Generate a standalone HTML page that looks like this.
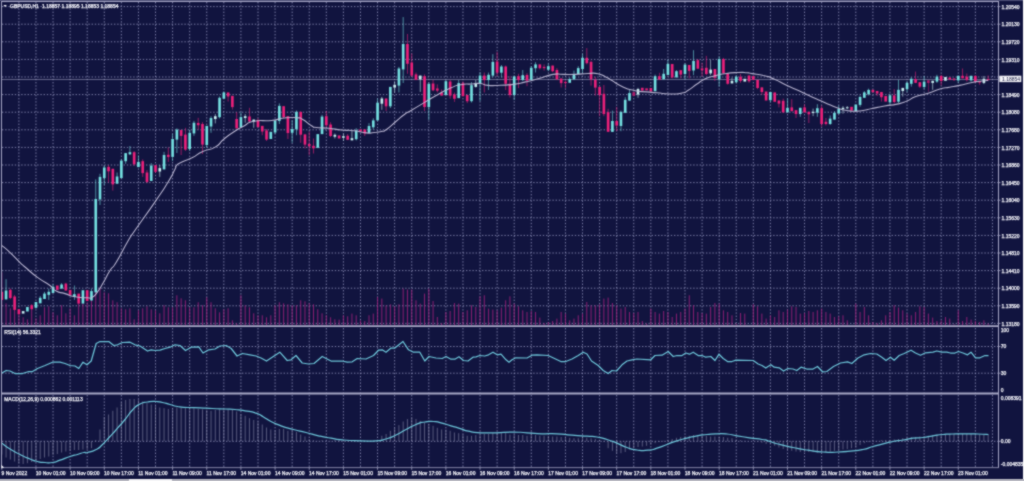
<!DOCTYPE html>
<html><head><meta charset="utf-8"><title>GBPUSD H1</title>
<style>html,body{margin:0;padding:0;background:#11143f;overflow:hidden}body{width:1024px;height:481px;font-family:"Liberation Sans",sans-serif}</style>
</head><body>
<svg width="1024" height="481" viewBox="0 0 1024 481" style="display:block">
<defs><filter id="soft" x="0" y="0" width="1024" height="481" filterUnits="userSpaceOnUse" color-interpolation-filters="sRGB"><feConvolveMatrix order="3" kernelMatrix="1 2 1 2 10 2 1 2 1" divisor="22" edgeMode="duplicate" preserveAlpha="true"/></filter></defs>
<g filter="url(#soft)">
<rect x="0" y="0" width="1024" height="481" fill="#11143f"/>
<rect x="0" y="0" width="1024" height="1" fill="#4a4c74"/>
<g stroke="#a0a1ca" stroke-width="0.8" stroke-dasharray="1.4 1.8" opacity="0.95" fill="none">
<path d="M18.88 2V325.5M18.88 328V392.5M18.88 395V467"/>
<path d="M35.96 2V325.5M35.96 328V392.5M35.96 395V467"/>
<path d="M53.04 2V325.5M53.04 328V392.5M53.04 395V467"/>
<path d="M70.12 2V325.5M70.12 328V392.5M70.12 395V467"/>
<path d="M87.20 2V325.5M87.20 328V392.5M87.20 395V467"/>
<path d="M104.28 2V325.5M104.28 328V392.5M104.28 395V467"/>
<path d="M121.36 2V325.5M121.36 328V392.5M121.36 395V467"/>
<path d="M138.44 2V325.5M138.44 328V392.5M138.44 395V467"/>
<path d="M155.52 2V325.5M155.52 328V392.5M155.52 395V467"/>
<path d="M172.60 2V325.5M172.60 328V392.5M172.60 395V467"/>
<path d="M189.68 2V325.5M189.68 328V392.5M189.68 395V467"/>
<path d="M206.76 2V325.5M206.76 328V392.5M206.76 395V467"/>
<path d="M223.84 2V325.5M223.84 328V392.5M223.84 395V467"/>
<path d="M240.92 2V325.5M240.92 328V392.5M240.92 395V467"/>
<path d="M258.00 2V325.5M258.00 328V392.5M258.00 395V467"/>
<path d="M275.08 2V325.5M275.08 328V392.5M275.08 395V467"/>
<path d="M292.16 2V325.5M292.16 328V392.5M292.16 395V467"/>
<path d="M309.24 2V325.5M309.24 328V392.5M309.24 395V467"/>
<path d="M326.32 2V325.5M326.32 328V392.5M326.32 395V467"/>
<path d="M343.40 2V325.5M343.40 328V392.5M343.40 395V467"/>
<path d="M360.48 2V325.5M360.48 328V392.5M360.48 395V467"/>
<path d="M377.56 2V325.5M377.56 328V392.5M377.56 395V467"/>
<path d="M394.64 2V325.5M394.64 328V392.5M394.64 395V467"/>
<path d="M411.72 2V325.5M411.72 328V392.5M411.72 395V467"/>
<path d="M428.80 2V325.5M428.80 328V392.5M428.80 395V467"/>
<path d="M445.88 2V325.5M445.88 328V392.5M445.88 395V467"/>
<path d="M462.96 2V325.5M462.96 328V392.5M462.96 395V467"/>
<path d="M480.04 2V325.5M480.04 328V392.5M480.04 395V467"/>
<path d="M497.12 2V325.5M497.12 328V392.5M497.12 395V467"/>
<path d="M514.20 2V325.5M514.20 328V392.5M514.20 395V467"/>
<path d="M531.28 2V325.5M531.28 328V392.5M531.28 395V467"/>
<path d="M548.36 2V325.5M548.36 328V392.5M548.36 395V467"/>
<path d="M565.44 2V325.5M565.44 328V392.5M565.44 395V467"/>
<path d="M582.52 2V325.5M582.52 328V392.5M582.52 395V467"/>
<path d="M599.60 2V325.5M599.60 328V392.5M599.60 395V467"/>
<path d="M616.68 2V325.5M616.68 328V392.5M616.68 395V467"/>
<path d="M633.76 2V325.5M633.76 328V392.5M633.76 395V467"/>
<path d="M650.84 2V325.5M650.84 328V392.5M650.84 395V467"/>
<path d="M667.92 2V325.5M667.92 328V392.5M667.92 395V467"/>
<path d="M685.00 2V325.5M685.00 328V392.5M685.00 395V467"/>
<path d="M702.08 2V325.5M702.08 328V392.5M702.08 395V467"/>
<path d="M719.16 2V325.5M719.16 328V392.5M719.16 395V467"/>
<path d="M736.24 2V325.5M736.24 328V392.5M736.24 395V467"/>
<path d="M753.32 2V325.5M753.32 328V392.5M753.32 395V467"/>
<path d="M770.40 2V325.5M770.40 328V392.5M770.40 395V467"/>
<path d="M787.48 2V325.5M787.48 328V392.5M787.48 395V467"/>
<path d="M804.56 2V325.5M804.56 328V392.5M804.56 395V467"/>
<path d="M821.64 2V325.5M821.64 328V392.5M821.64 395V467"/>
<path d="M838.72 2V325.5M838.72 328V392.5M838.72 395V467"/>
<path d="M855.80 2V325.5M855.80 328V392.5M855.80 395V467"/>
<path d="M872.88 2V325.5M872.88 328V392.5M872.88 395V467"/>
<path d="M889.96 2V325.5M889.96 328V392.5M889.96 395V467"/>
<path d="M907.04 2V325.5M907.04 328V392.5M907.04 395V467"/>
<path d="M924.12 2V325.5M924.12 328V392.5M924.12 395V467"/>
<path d="M941.20 2V325.5M941.20 328V392.5M941.20 395V467"/>
<path d="M958.28 2V325.5M958.28 328V392.5M958.28 395V467"/>
<path d="M975.36 2V325.5M975.36 328V392.5M975.36 395V467"/>
<path d="M992.44 2V325.5M992.44 328V392.5M992.44 395V467"/>
<path d="M2 6.60H998"/>
<path d="M2 24.20H998"/>
<path d="M2 41.80H998"/>
<path d="M2 59.40H998"/>
<path d="M2 77.00H998"/>
<path d="M2 94.60H998"/>
<path d="M2 112.20H998"/>
<path d="M2 129.80H998"/>
<path d="M2 147.40H998"/>
<path d="M2 165.00H998"/>
<path d="M2 182.60H998"/>
<path d="M2 200.20H998"/>
<path d="M2 217.80H998"/>
<path d="M2 235.40H998"/>
<path d="M2 253.00H998"/>
<path d="M2 270.60H998"/>
<path d="M2 288.20H998"/>
<path d="M2 305.80H998"/>
<path d="M2 323.40H998"/>
<path d="M2 346.50H998"/>
<path d="M2 373.20H998"/>
<path d="M2 441.30H998"/>
</g>
<defs><clipPath id="cp"><rect x="2" y="2" width="996" height="465"/></clipPath></defs><g clip-path="url(#cp)">
<g stroke="#a0207c" stroke-width="0.85">
<path d="M1.80 325.3V272.3"/>
<path d="M6.07 325.3V303.3"/>
<path d="M10.34 325.3V308.3"/>
<path d="M14.61 325.3V310.3"/>
<path d="M18.88 325.3V315.3"/>
<path d="M23.15 325.3V317.3"/>
<path d="M27.42 325.3V319.3"/>
<path d="M31.69 325.3V307.3"/>
<path d="M35.96 325.3V318.3"/>
<path d="M40.23 325.3V315.3"/>
<path d="M44.50 325.3V307.3"/>
<path d="M48.77 325.3V306.3"/>
<path d="M53.04 325.3V312.3"/>
<path d="M57.31 325.3V315.3"/>
<path d="M61.58 325.3V305.3"/>
<path d="M65.85 325.3V313.3"/>
<path d="M70.12 325.3V308.3"/>
<path d="M74.39 325.3V315.3"/>
<path d="M78.66 325.3V303.3"/>
<path d="M82.93 325.3V303.3"/>
<path d="M87.20 325.3V302.3"/>
<path d="M91.47 325.3V298.3"/>
<path d="M95.74 325.3V288.3"/>
<path d="M100.01 325.3V287.3"/>
<path d="M104.28 325.3V292.3"/>
<path d="M108.55 325.3V293.3"/>
<path d="M112.82 325.3V300.3"/>
<path d="M117.09 325.3V302.3"/>
<path d="M121.36 325.3V308.3"/>
<path d="M125.63 325.3V309.3"/>
<path d="M129.90 325.3V308.3"/>
<path d="M134.17 325.3V319.3"/>
<path d="M138.44 325.3V310.3"/>
<path d="M142.71 325.3V308.3"/>
<path d="M146.98 325.3V306.3"/>
<path d="M151.25 325.3V309.3"/>
<path d="M155.52 325.3V310.3"/>
<path d="M159.79 325.3V313.3"/>
<path d="M164.06 325.3V305.3"/>
<path d="M168.33 325.3V307.3"/>
<path d="M172.60 325.3V307.3"/>
<path d="M176.87 325.3V295.3"/>
<path d="M181.14 325.3V298.3"/>
<path d="M185.41 325.3V300.3"/>
<path d="M189.68 325.3V307.3"/>
<path d="M193.95 325.3V307.3"/>
<path d="M198.22 325.3V302.3"/>
<path d="M202.49 325.3V305.3"/>
<path d="M206.76 325.3V297.3"/>
<path d="M211.03 325.3V302.3"/>
<path d="M215.30 325.3V308.3"/>
<path d="M219.57 325.3V312.3"/>
<path d="M223.84 325.3V309.3"/>
<path d="M228.11 325.3V308.3"/>
<path d="M232.38 325.3V320.3"/>
<path d="M236.65 325.3V323.3"/>
<path d="M240.92 325.3V295.3"/>
<path d="M245.19 325.3V305.3"/>
<path d="M249.46 325.3V307.3"/>
<path d="M253.73 325.3V313.3"/>
<path d="M258.00 325.3V315.3"/>
<path d="M262.27 325.3V315.3"/>
<path d="M266.54 325.3V317.3"/>
<path d="M270.81 325.3V315.3"/>
<path d="M275.08 325.3V305.3"/>
<path d="M279.35 325.3V302.3"/>
<path d="M283.62 325.3V303.3"/>
<path d="M287.89 325.3V304.3"/>
<path d="M292.16 325.3V305.3"/>
<path d="M296.43 325.3V305.3"/>
<path d="M300.70 325.3V300.3"/>
<path d="M304.97 325.3V301.3"/>
<path d="M309.24 325.3V303.3"/>
<path d="M313.51 325.3V304.3"/>
<path d="M317.78 325.3V309.3"/>
<path d="M322.05 325.3V313.3"/>
<path d="M326.32 325.3V315.3"/>
<path d="M330.59 325.3V317.3"/>
<path d="M334.86 325.3V319.3"/>
<path d="M339.13 325.3V319.6"/>
<path d="M343.40 325.3V315.3"/>
<path d="M347.67 325.3V316.3"/>
<path d="M351.94 325.3V313.6"/>
<path d="M356.21 325.3V315.3"/>
<path d="M360.48 325.3V320.3"/>
<path d="M364.75 325.3V321.0"/>
<path d="M369.02 325.3V315.3"/>
<path d="M373.29 325.3V313.6"/>
<path d="M377.56 325.3V297.0"/>
<path d="M381.83 325.3V298.6"/>
<path d="M386.10 325.3V305.3"/>
<path d="M390.37 325.3V304.3"/>
<path d="M394.64 325.3V306.3"/>
<path d="M398.91 325.3V304.3"/>
<path d="M403.18 325.3V288.6"/>
<path d="M407.45 325.3V289.6"/>
<path d="M411.72 325.3V289.6"/>
<path d="M415.99 325.3V300.3"/>
<path d="M420.26 325.3V303.6"/>
<path d="M424.53 325.3V293.6"/>
<path d="M428.80 325.3V288.6"/>
<path d="M433.07 325.3V301.0"/>
<path d="M437.34 325.3V317.0"/>
<path d="M441.61 325.3V323.0"/>
<path d="M445.88 325.3V312.0"/>
<path d="M450.15 325.3V311.0"/>
<path d="M454.42 325.3V303.0"/>
<path d="M458.69 325.3V303.6"/>
<path d="M462.96 325.3V312.0"/>
<path d="M467.23 325.3V310.3"/>
<path d="M471.50 325.3V305.3"/>
<path d="M475.77 325.3V307.0"/>
<path d="M480.04 325.3V296.3"/>
<path d="M484.31 325.3V295.3"/>
<path d="M488.58 325.3V308.6"/>
<path d="M492.85 325.3V309.6"/>
<path d="M497.12 325.3V310.3"/>
<path d="M501.39 325.3V307.6"/>
<path d="M505.66 325.3V300.3"/>
<path d="M509.93 325.3V296.3"/>
<path d="M514.20 325.3V303.6"/>
<path d="M518.47 325.3V306.3"/>
<path d="M522.74 325.3V310.3"/>
<path d="M527.01 325.3V312.0"/>
<path d="M531.28 325.3V311.0"/>
<path d="M535.55 325.3V312.0"/>
<path d="M539.82 325.3V317.6"/>
<path d="M544.09 325.3V323.0"/>
<path d="M548.36 325.3V322.0"/>
<path d="M552.63 325.3V321.0"/>
<path d="M556.90 325.3V318.6"/>
<path d="M561.17 325.3V312.0"/>
<path d="M565.44 325.3V313.6"/>
<path d="M569.71 325.3V320.3"/>
<path d="M573.98 325.3V318.6"/>
<path d="M578.25 325.3V315.3"/>
<path d="M582.52 325.3V313.6"/>
<path d="M586.79 325.3V302.0"/>
<path d="M591.06 325.3V305.3"/>
<path d="M595.33 325.3V305.3"/>
<path d="M599.60 325.3V304.3"/>
<path d="M603.87 325.3V298.6"/>
<path d="M608.14 325.3V297.6"/>
<path d="M612.41 325.3V303.0"/>
<path d="M616.68 325.3V305.3"/>
<path d="M620.95 325.3V308.6"/>
<path d="M625.22 325.3V307.0"/>
<path d="M629.49 325.3V312.0"/>
<path d="M633.76 325.3V313.0"/>
<path d="M638.03 325.3V312.0"/>
<path d="M642.30 325.3V321.0"/>
<path d="M646.57 325.3V323.6"/>
<path d="M650.84 325.3V308.6"/>
<path d="M655.11 325.3V312.0"/>
<path d="M659.38 325.3V313.6"/>
<path d="M663.65 325.3V311.0"/>
<path d="M667.92 325.3V312.0"/>
<path d="M672.19 325.3V317.0"/>
<path d="M676.46 325.3V313.6"/>
<path d="M680.73 325.3V312.0"/>
<path d="M685.00 325.3V308.6"/>
<path d="M689.27 325.3V295.3"/>
<path d="M693.54 325.3V305.3"/>
<path d="M697.81 325.3V312.0"/>
<path d="M702.08 325.3V313.0"/>
<path d="M706.35 325.3V313.6"/>
<path d="M710.62 325.3V307.0"/>
<path d="M714.89 325.3V303.0"/>
<path d="M719.16 325.3V303.6"/>
<path d="M723.43 325.3V310.3"/>
<path d="M727.70 325.3V312.0"/>
<path d="M731.97 325.3V315.3"/>
<path d="M736.24 325.3V323.6"/>
<path d="M740.51 325.3V313.0"/>
<path d="M744.78 325.3V313.6"/>
<path d="M753.32 325.3V304.3"/>
<path d="M757.59 325.3V306.3"/>
<path d="M761.86 325.3V313.6"/>
<path d="M766.13 325.3V318.6"/>
<path d="M770.40 325.3V315.3"/>
<path d="M774.67 325.3V317.0"/>
<path d="M778.94 325.3V310.3"/>
<path d="M783.21 325.3V312.0"/>
<path d="M787.48 325.3V309.6"/>
<path d="M791.75 325.3V306.3"/>
<path d="M796.02 325.3V307.0"/>
<path d="M800.29 325.3V313.6"/>
<path d="M804.56 325.3V313.0"/>
<path d="M808.83 325.3V311.0"/>
<path d="M813.10 325.3V312.0"/>
<path d="M817.37 325.3V310.3"/>
<path d="M821.64 325.3V308.6"/>
<path d="M825.91 325.3V312.0"/>
<path d="M830.18 325.3V313.6"/>
<path d="M834.45 325.3V317.0"/>
<path d="M838.72 325.3V316.3"/>
<path d="M842.99 325.3V315.3"/>
<path d="M847.26 325.3V320.3"/>
<path d="M855.80 325.3V303.6"/>
<path d="M860.07 325.3V312.0"/>
<path d="M864.34 325.3V307.0"/>
<path d="M868.61 325.3V315.3"/>
<path d="M872.88 325.3V322.0"/>
<path d="M877.15 325.3V323.0"/>
<path d="M881.42 325.3V320.3"/>
<path d="M885.69 325.3V315.3"/>
<path d="M889.96 325.3V312.0"/>
<path d="M894.23 325.3V305.3"/>
<path d="M898.50 325.3V307.6"/>
<path d="M902.77 325.3V310.3"/>
<path d="M907.04 325.3V313.6"/>
<path d="M911.31 325.3V315.3"/>
<path d="M915.58 325.3V312.0"/>
<path d="M919.85 325.3V306.3"/>
<path d="M924.12 325.3V307.0"/>
<path d="M928.39 325.3V313.6"/>
<path d="M932.66 325.3V317.6"/>
<path d="M936.93 325.3V321.0"/>
<path d="M941.20 325.3V320.3"/>
<path d="M945.47 325.3V317.0"/>
<path d="M949.74 325.3V318.6"/>
<path d="M954.01 325.3V324.3"/>
<path d="M958.28 325.3V310.3"/>
<path d="M962.55 325.3V321.0"/>
<path d="M966.82 325.3V317.0"/>
<path d="M971.09 325.3V319.6"/>
<path d="M975.36 325.3V321.0"/>
<path d="M979.63 325.3V322.0"/>
<path d="M983.90 325.3V320.3"/>
<path d="M988.17 325.3V323.6"/>
</g>
<path d="M2 79.4H998" stroke="#b4b4d2" stroke-width="0.8" opacity="0.72"/>
<g>
<rect x="0.47" y="291.8" width="2.66" height="8.1" fill="#ea2079"/>
<path d="M6.07 279.2V299.9" stroke="#74dfe0" stroke-width="0.75" opacity="0.8"/>
<rect x="4.74" y="290.5" width="2.66" height="8.8" fill="#74dfe0"/>
<path d="M10.34 288.6V299.2" stroke="#ea2079" stroke-width="0.75" opacity="0.8"/>
<rect x="9.01" y="289.9" width="2.66" height="8.1" fill="#ea2079"/>
<path d="M14.61 294.9V310.5" stroke="#ea2079" stroke-width="0.75" opacity="0.8"/>
<rect x="13.28" y="296.5" width="2.66" height="13.4" fill="#ea2079"/>
<path d="M18.88 309.2V315.2" stroke="#ea2079" stroke-width="0.75" opacity="0.8"/>
<rect x="17.55" y="309.2" width="2.66" height="5.0" fill="#ea2079"/>
<rect x="21.82" y="311.1" width="2.66" height="2.5" fill="#c9eef0"/>
<rect x="26.09" y="307.0" width="2.66" height="4.5" fill="#74dfe0"/>
<path d="M31.69 304.2V309.2" stroke="#ea2079" stroke-width="0.75" opacity="0.8"/>
<rect x="30.36" y="305.2" width="2.66" height="4.0" fill="#ea2079"/>
<path d="M35.96 302.0V308.6" stroke="#74dfe0" stroke-width="0.75" opacity="0.8"/>
<rect x="34.63" y="302.0" width="2.66" height="5.8" fill="#74dfe0"/>
<path d="M40.23 296.1V303.2" stroke="#74dfe0" stroke-width="0.75" opacity="0.8"/>
<rect x="38.90" y="297.8" width="2.66" height="5.5" fill="#74dfe0"/>
<path d="M44.50 291.8V299.0" stroke="#74dfe0" stroke-width="0.75" opacity="0.8"/>
<rect x="43.17" y="293.6" width="2.66" height="5.4" fill="#74dfe0"/>
<path d="M48.77 288.6V299.9" stroke="#74dfe0" stroke-width="0.75" opacity="0.8"/>
<rect x="47.44" y="291.8" width="2.66" height="3.1" fill="#74dfe0"/>
<path d="M53.04 284.2V293.0" stroke="#74dfe0" stroke-width="0.75" opacity="0.8"/>
<rect x="51.71" y="286.8" width="2.66" height="6.2" fill="#74dfe0"/>
<rect x="55.98" y="285.5" width="2.66" height="4.4" fill="#ea2079"/>
<path d="M61.58 283.2V288.6" stroke="#74dfe0" stroke-width="0.75" opacity="0.8"/>
<rect x="60.25" y="284.5" width="2.66" height="4.1" fill="#74dfe0"/>
<path d="M65.85 282.8V290.5" stroke="#ea2079" stroke-width="0.75" opacity="0.8"/>
<rect x="64.52" y="283.6" width="2.66" height="6.9" fill="#ea2079"/>
<rect x="68.79" y="289.9" width="2.66" height="5.0" fill="#ea2079"/>
<path d="M74.39 285.5V299.9" stroke="#74dfe0" stroke-width="0.75" opacity="0.8"/>
<rect x="73.06" y="294.2" width="2.66" height="2.8" fill="#74dfe0"/>
<rect x="77.33" y="293.6" width="2.66" height="10.0" fill="#ea2079"/>
<rect x="81.60" y="290.2" width="2.66" height="13.4" fill="#74dfe0"/>
<rect x="85.87" y="290.2" width="2.66" height="10.9" fill="#ea2079"/>
<path d="M91.47 288.6V300.5" stroke="#74dfe0" stroke-width="0.75" opacity="0.8"/>
<rect x="90.14" y="291.1" width="2.66" height="9.4" fill="#74dfe0"/>
<path d="M95.74 179.4V292.4" stroke="#74dfe0" stroke-width="0.75" opacity="0.8"/>
<rect x="94.41" y="199.0" width="2.66" height="93.4" fill="#74dfe0"/>
<path d="M100.01 173.8V205.0" stroke="#74dfe0" stroke-width="0.75" opacity="0.8"/>
<rect x="98.68" y="176.9" width="2.66" height="22.5" fill="#74dfe0"/>
<path d="M104.28 165.6V185.0" stroke="#74dfe0" stroke-width="0.75" opacity="0.8"/>
<rect x="102.95" y="167.5" width="2.66" height="10.6" fill="#74dfe0"/>
<path d="M108.55 165.0V182.5" stroke="#ea2079" stroke-width="0.75" opacity="0.8"/>
<rect x="107.22" y="166.9" width="2.66" height="4.4" fill="#ea2079"/>
<path d="M112.82 168.8V190.6" stroke="#ea2079" stroke-width="0.75" opacity="0.8"/>
<rect x="111.49" y="168.8" width="2.66" height="15.6" fill="#ea2079"/>
<path d="M117.09 172.5V183.8" stroke="#74dfe0" stroke-width="0.75" opacity="0.8"/>
<rect x="115.76" y="176.5" width="2.66" height="7.2" fill="#74dfe0"/>
<path d="M121.36 159.4V178.1" stroke="#74dfe0" stroke-width="0.75" opacity="0.8"/>
<rect x="120.03" y="160.6" width="2.66" height="17.5" fill="#74dfe0"/>
<path d="M125.63 153.1V163.8" stroke="#74dfe0" stroke-width="0.75" opacity="0.8"/>
<rect x="124.30" y="153.1" width="2.66" height="8.1" fill="#74dfe0"/>
<path d="M129.90 146.0V155.0" stroke="#74dfe0" stroke-width="0.75" opacity="0.8"/>
<rect x="128.57" y="152.2" width="2.66" height="2.1" fill="#74dfe0"/>
<path d="M134.17 151.2V165.6" stroke="#ea2079" stroke-width="0.75" opacity="0.8"/>
<rect x="132.84" y="152.2" width="2.66" height="12.1" fill="#ea2079"/>
<path d="M138.44 155.6V167.1" stroke="#74dfe0" stroke-width="0.75" opacity="0.8"/>
<rect x="137.11" y="161.9" width="2.66" height="5.2" fill="#74dfe0"/>
<path d="M142.71 159.4V176.9" stroke="#ea2079" stroke-width="0.75" opacity="0.8"/>
<rect x="141.38" y="161.2" width="2.66" height="11.9" fill="#ea2079"/>
<path d="M146.98 170.0V183.1" stroke="#ea2079" stroke-width="0.75" opacity="0.8"/>
<rect x="145.65" y="172.5" width="2.66" height="9.4" fill="#ea2079"/>
<path d="M151.25 163.1V181.0" stroke="#74dfe0" stroke-width="0.75" opacity="0.8"/>
<rect x="149.92" y="165.6" width="2.66" height="15.4" fill="#74dfe0"/>
<path d="M155.52 165.2V173.1" stroke="#ea2079" stroke-width="0.75" opacity="0.8"/>
<rect x="154.19" y="165.2" width="2.66" height="6.6" fill="#ea2079"/>
<path d="M159.79 165.0V176.9" stroke="#c9eef0" stroke-width="0.75" opacity="0.8"/>
<rect x="158.46" y="168.1" width="2.66" height="3.4" fill="#c9eef0"/>
<path d="M164.06 151.9V169.4" stroke="#74dfe0" stroke-width="0.75" opacity="0.8"/>
<rect x="162.73" y="155.0" width="2.66" height="14.4" fill="#74dfe0"/>
<path d="M168.33 147.5V161.9" stroke="#ea2079" stroke-width="0.75" opacity="0.8"/>
<rect x="167.00" y="154.8" width="2.66" height="2.1" fill="#ea2079"/>
<path d="M172.60 133.8V161.2" stroke="#74dfe0" stroke-width="0.75" opacity="0.8"/>
<rect x="171.27" y="139.0" width="2.66" height="17.9" fill="#74dfe0"/>
<path d="M176.87 128.4V153.0" stroke="#74dfe0" stroke-width="0.75" opacity="0.8"/>
<rect x="175.54" y="129.6" width="2.66" height="10.0" fill="#74dfe0"/>
<path d="M181.14 130.0V155.0" stroke="#ea2079" stroke-width="0.75" opacity="0.8"/>
<rect x="179.81" y="130.0" width="2.66" height="5.9" fill="#ea2079"/>
<path d="M185.41 127.8V150.9" stroke="#ea2079" stroke-width="0.75" opacity="0.8"/>
<rect x="184.08" y="134.6" width="2.66" height="15.0" fill="#ea2079"/>
<path d="M189.68 129.6V150.9" stroke="#74dfe0" stroke-width="0.75" opacity="0.8"/>
<rect x="188.35" y="132.8" width="2.66" height="16.2" fill="#74dfe0"/>
<path d="M193.95 120.9V135.9" stroke="#74dfe0" stroke-width="0.75" opacity="0.8"/>
<rect x="192.62" y="122.8" width="2.66" height="10.6" fill="#74dfe0"/>
<path d="M198.22 117.8V129.6" stroke="#ea2079" stroke-width="0.75" opacity="0.8"/>
<rect x="196.89" y="123.0" width="2.66" height="2.2" fill="#ea2079"/>
<path d="M202.49 122.1V154.0" stroke="#ea2079" stroke-width="0.75" opacity="0.8"/>
<rect x="201.16" y="124.0" width="2.66" height="20.6" fill="#ea2079"/>
<path d="M206.76 125.9V147.8" stroke="#74dfe0" stroke-width="0.75" opacity="0.8"/>
<rect x="205.43" y="125.9" width="2.66" height="19.1" fill="#74dfe0"/>
<path d="M211.03 116.2V132.8" stroke="#74dfe0" stroke-width="0.75" opacity="0.8"/>
<rect x="209.70" y="118.0" width="2.66" height="8.5" fill="#74dfe0"/>
<path d="M215.30 114.0V123.4" stroke="#c9eef0" stroke-width="0.75" opacity="0.8"/>
<rect x="213.97" y="116.2" width="2.66" height="2.8" fill="#c9eef0"/>
<path d="M219.57 96.5V118.4" stroke="#74dfe0" stroke-width="0.75" opacity="0.8"/>
<rect x="218.24" y="97.8" width="2.66" height="19.4" fill="#74dfe0"/>
<path d="M223.84 91.5V98.8" stroke="#74dfe0" stroke-width="0.75" opacity="0.8"/>
<rect x="222.51" y="92.5" width="2.66" height="6.2" fill="#74dfe0"/>
<path d="M228.11 92.5V101.5" stroke="#ea2079" stroke-width="0.75" opacity="0.8"/>
<rect x="226.78" y="92.5" width="2.66" height="4.0" fill="#ea2079"/>
<path d="M232.38 95.9V109.6" stroke="#ea2079" stroke-width="0.75" opacity="0.8"/>
<rect x="231.05" y="95.9" width="2.66" height="11.2" fill="#ea2079"/>
<path d="M236.65 112.1V128.4" stroke="#ea2079" stroke-width="0.75" opacity="0.8"/>
<rect x="235.32" y="119.0" width="2.66" height="9.4" fill="#ea2079"/>
<path d="M240.92 112.1V127.1" stroke="#74dfe0" stroke-width="0.75" opacity="0.8"/>
<rect x="239.59" y="117.1" width="2.66" height="10.0" fill="#74dfe0"/>
<path d="M245.19 114.0V122.8" stroke="#c9eef0" stroke-width="0.75" opacity="0.8"/>
<rect x="243.86" y="116.2" width="2.66" height="1.8" fill="#c9eef0"/>
<path d="M249.46 107.8V122.1" stroke="#ea2079" stroke-width="0.75" opacity="0.8"/>
<rect x="248.13" y="116.5" width="2.66" height="5.0" fill="#ea2079"/>
<path d="M253.73 119.6V127.8" stroke="#c9eef0" stroke-width="0.75" opacity="0.8"/>
<rect x="252.40" y="119.6" width="2.66" height="1.9" fill="#c9eef0"/>
<path d="M258.00 118.4V127.1" stroke="#ea2079" stroke-width="0.75" opacity="0.8"/>
<rect x="256.67" y="120.2" width="2.66" height="6.9" fill="#ea2079"/>
<path d="M262.27 125.9V135.2" stroke="#ea2079" stroke-width="0.75" opacity="0.8"/>
<rect x="260.94" y="125.9" width="2.66" height="5.6" fill="#ea2079"/>
<path d="M266.54 129.0V140.9" stroke="#ea2079" stroke-width="0.75" opacity="0.8"/>
<rect x="265.21" y="130.5" width="2.66" height="9.1" fill="#ea2079"/>
<rect x="269.48" y="131.8" width="2.66" height="7.2" fill="#74dfe0"/>
<path d="M275.08 120.5V134.0" stroke="#74dfe0" stroke-width="0.75" opacity="0.8"/>
<rect x="273.75" y="120.5" width="2.66" height="12.0" fill="#74dfe0"/>
<path d="M279.35 103.4V124.0" stroke="#74dfe0" stroke-width="0.75" opacity="0.8"/>
<rect x="278.02" y="105.9" width="2.66" height="15.0" fill="#74dfe0"/>
<path d="M283.62 106.2V118.4" stroke="#ea2079" stroke-width="0.75" opacity="0.8"/>
<rect x="282.29" y="106.2" width="2.66" height="10.9" fill="#ea2079"/>
<path d="M287.89 116.2V139.0" stroke="#ea2079" stroke-width="0.75" opacity="0.8"/>
<rect x="286.56" y="116.2" width="2.66" height="16.8" fill="#ea2079"/>
<path d="M292.16 120.2V142.8" stroke="#74dfe0" stroke-width="0.75" opacity="0.8"/>
<rect x="290.83" y="129.0" width="2.66" height="3.8" fill="#74dfe0"/>
<path d="M296.43 110.5V135.2" stroke="#74dfe0" stroke-width="0.75" opacity="0.8"/>
<rect x="295.10" y="111.8" width="2.66" height="17.5" fill="#74dfe0"/>
<path d="M300.70 111.8V142.8" stroke="#ea2079" stroke-width="0.75" opacity="0.8"/>
<rect x="299.37" y="111.8" width="2.66" height="22.9" fill="#ea2079"/>
<path d="M304.97 134.4V148.4" stroke="#ea2079" stroke-width="0.75" opacity="0.8"/>
<rect x="303.64" y="134.4" width="2.66" height="10.2" fill="#ea2079"/>
<path d="M309.24 131.5V155.2" stroke="#ea2079" stroke-width="0.75" opacity="0.8"/>
<rect x="307.91" y="144.0" width="2.66" height="2.2" fill="#ea2079"/>
<path d="M313.51 138.5V153.5" stroke="#ea2079" stroke-width="0.75" opacity="0.8"/>
<rect x="312.18" y="145.8" width="2.66" height="2.5" fill="#ea2079"/>
<rect x="316.45" y="134.1" width="2.66" height="13.8" fill="#74dfe0"/>
<path d="M322.05 114.8V134.1" stroke="#74dfe0" stroke-width="0.75" opacity="0.8"/>
<rect x="320.72" y="116.6" width="2.66" height="17.5" fill="#74dfe0"/>
<path d="M326.32 111.0V127.2" stroke="#ea2079" stroke-width="0.75" opacity="0.8"/>
<rect x="324.99" y="116.2" width="2.66" height="9.1" fill="#ea2079"/>
<path d="M330.59 122.2V137.2" stroke="#ea2079" stroke-width="0.75" opacity="0.8"/>
<rect x="329.26" y="124.5" width="2.66" height="11.5" fill="#ea2079"/>
<path d="M334.86 133.5V138.5" stroke="#c9eef0" stroke-width="0.75" opacity="0.8"/>
<rect x="333.53" y="134.8" width="2.66" height="1.9" fill="#c9eef0"/>
<rect x="337.80" y="135.4" width="2.66" height="3.1" fill="#ea2079"/>
<path d="M343.40 133.5V141.0" stroke="#c9eef0" stroke-width="0.75" opacity="0.8"/>
<rect x="342.07" y="136.2" width="2.66" height="1.6" fill="#c9eef0"/>
<path d="M347.67 134.1V139.8" stroke="#ea2079" stroke-width="0.75" opacity="0.8"/>
<rect x="346.34" y="135.8" width="2.66" height="4.0" fill="#ea2079"/>
<path d="M351.94 131.0V140.4" stroke="#c9eef0" stroke-width="0.75" opacity="0.8"/>
<rect x="350.61" y="138.2" width="2.66" height="2.1" fill="#c9eef0"/>
<path d="M356.21 128.2V140.4" stroke="#74dfe0" stroke-width="0.75" opacity="0.8"/>
<rect x="354.88" y="130.4" width="2.66" height="8.8" fill="#74dfe0"/>
<rect x="359.15" y="129.5" width="2.66" height="2.1" fill="#ea2079"/>
<path d="M364.75 129.5V136.0" stroke="#ea2079" stroke-width="0.75" opacity="0.8"/>
<rect x="363.42" y="129.5" width="2.66" height="4.0" fill="#ea2079"/>
<path d="M369.02 123.2V132.9" stroke="#74dfe0" stroke-width="0.75" opacity="0.8"/>
<rect x="367.69" y="126.0" width="2.66" height="6.9" fill="#74dfe0"/>
<path d="M373.29 118.2V129.5" stroke="#74dfe0" stroke-width="0.75" opacity="0.8"/>
<rect x="371.96" y="120.4" width="2.66" height="6.9" fill="#74dfe0"/>
<path d="M377.56 98.3V120.4" stroke="#74dfe0" stroke-width="0.75" opacity="0.8"/>
<rect x="376.23" y="102.7" width="2.66" height="17.7" fill="#74dfe0"/>
<path d="M381.83 96.9V109.8" stroke="#c9eef0" stroke-width="0.75" opacity="0.8"/>
<rect x="380.50" y="98.5" width="2.66" height="5.2" fill="#c9eef0"/>
<path d="M386.10 98.5V111.0" stroke="#ea2079" stroke-width="0.75" opacity="0.8"/>
<rect x="384.77" y="98.5" width="2.66" height="7.8" fill="#ea2079"/>
<path d="M390.37 86.9V108.1" stroke="#74dfe0" stroke-width="0.75" opacity="0.8"/>
<rect x="389.04" y="86.9" width="2.66" height="19.4" fill="#74dfe0"/>
<path d="M394.64 81.2V92.5" stroke="#c9eef0" stroke-width="0.75" opacity="0.8"/>
<rect x="393.31" y="84.8" width="2.66" height="2.8" fill="#c9eef0"/>
<path d="M398.91 66.9V92.5" stroke="#74dfe0" stroke-width="0.75" opacity="0.8"/>
<rect x="397.58" y="68.5" width="2.66" height="17.1" fill="#74dfe0"/>
<path d="M403.18 17.1V83.0" stroke="#74dfe0" stroke-width="0.75" opacity="0.8"/>
<rect x="401.85" y="44.0" width="2.66" height="25.4" fill="#74dfe0"/>
<path d="M407.45 34.0V73.8" stroke="#ea2079" stroke-width="0.75" opacity="0.8"/>
<rect x="406.12" y="44.0" width="2.66" height="19.8" fill="#ea2079"/>
<path d="M411.72 53.5V76.9" stroke="#ea2079" stroke-width="0.75" opacity="0.8"/>
<rect x="410.39" y="62.5" width="2.66" height="13.1" fill="#ea2079"/>
<path d="M415.99 72.5V79.8" stroke="#ea2079" stroke-width="0.75" opacity="0.8"/>
<rect x="414.66" y="74.4" width="2.66" height="5.4" fill="#ea2079"/>
<path d="M420.26 75.6V91.9" stroke="#c9eef0" stroke-width="0.75" opacity="0.8"/>
<rect x="418.93" y="75.6" width="2.66" height="3.8" fill="#c9eef0"/>
<path d="M424.53 74.4V111.0" stroke="#ea2079" stroke-width="0.75" opacity="0.8"/>
<rect x="423.20" y="76.2" width="2.66" height="30.8" fill="#ea2079"/>
<path d="M428.80 82.5V120.0" stroke="#74dfe0" stroke-width="0.75" opacity="0.8"/>
<rect x="427.47" y="83.8" width="2.66" height="23.2" fill="#74dfe0"/>
<path d="M433.07 80.0V91.2" stroke="#ea2079" stroke-width="0.75" opacity="0.8"/>
<rect x="431.74" y="83.5" width="2.66" height="6.8" fill="#ea2079"/>
<path d="M437.34 84.4V92.5" stroke="#ea2079" stroke-width="0.75" opacity="0.8"/>
<rect x="436.01" y="88.5" width="2.66" height="2.1" fill="#ea2079"/>
<path d="M441.61 89.4V95.6" stroke="#ea2079" stroke-width="0.75" opacity="0.8"/>
<rect x="440.28" y="92.5" width="2.66" height="3.1" fill="#ea2079"/>
<path d="M445.88 80.0V95.0" stroke="#74dfe0" stroke-width="0.75" opacity="0.8"/>
<rect x="444.55" y="81.2" width="2.66" height="13.8" fill="#74dfe0"/>
<path d="M450.15 80.0V98.8" stroke="#ea2079" stroke-width="0.75" opacity="0.8"/>
<rect x="448.82" y="81.5" width="2.66" height="14.1" fill="#ea2079"/>
<path d="M454.42 92.5V101.9" stroke="#ea2079" stroke-width="0.75" opacity="0.8"/>
<rect x="453.09" y="94.4" width="2.66" height="4.4" fill="#ea2079"/>
<path d="M458.69 80.0V98.1" stroke="#74dfe0" stroke-width="0.75" opacity="0.8"/>
<rect x="457.36" y="83.1" width="2.66" height="15.0" fill="#74dfe0"/>
<path d="M462.96 81.2V96.2" stroke="#ea2079" stroke-width="0.75" opacity="0.8"/>
<rect x="461.63" y="83.1" width="2.66" height="13.1" fill="#ea2079"/>
<path d="M467.23 95.0V103.1" stroke="#ea2079" stroke-width="0.75" opacity="0.8"/>
<rect x="465.90" y="95.0" width="2.66" height="6.2" fill="#ea2079"/>
<path d="M471.50 82.2V102.5" stroke="#74dfe0" stroke-width="0.75" opacity="0.8"/>
<rect x="470.17" y="85.2" width="2.66" height="16.0" fill="#74dfe0"/>
<path d="M475.77 80.0V87.5" stroke="#c9eef0" stroke-width="0.75" opacity="0.8"/>
<rect x="474.44" y="83.1" width="2.66" height="3.8" fill="#c9eef0"/>
<path d="M480.04 72.2V101.2" stroke="#74dfe0" stroke-width="0.75" opacity="0.8"/>
<rect x="478.71" y="75.6" width="2.66" height="8.1" fill="#74dfe0"/>
<path d="M484.31 72.5V92.5" stroke="#ea2079" stroke-width="0.75" opacity="0.8"/>
<rect x="482.98" y="75.6" width="2.66" height="4.4" fill="#ea2079"/>
<path d="M488.58 72.5V90.0" stroke="#74dfe0" stroke-width="0.75" opacity="0.8"/>
<rect x="487.25" y="74.8" width="2.66" height="5.2" fill="#74dfe0"/>
<path d="M492.85 54.2V77.5" stroke="#74dfe0" stroke-width="0.75" opacity="0.8"/>
<rect x="491.52" y="61.9" width="2.66" height="13.7" fill="#74dfe0"/>
<path d="M497.12 51.9V76.2" stroke="#ea2079" stroke-width="0.75" opacity="0.8"/>
<rect x="495.79" y="61.5" width="2.66" height="11.2" fill="#ea2079"/>
<path d="M501.39 65.0V77.5" stroke="#74dfe0" stroke-width="0.75" opacity="0.8"/>
<rect x="500.06" y="66.5" width="2.66" height="6.2" fill="#74dfe0"/>
<path d="M505.66 65.6V90.0" stroke="#ea2079" stroke-width="0.75" opacity="0.8"/>
<rect x="504.33" y="66.5" width="2.66" height="17.2" fill="#ea2079"/>
<path d="M509.93 76.2V97.5" stroke="#ea2079" stroke-width="0.75" opacity="0.8"/>
<rect x="508.60" y="83.8" width="2.66" height="11.2" fill="#ea2079"/>
<path d="M514.20 75.6V100.0" stroke="#74dfe0" stroke-width="0.75" opacity="0.8"/>
<rect x="512.87" y="76.5" width="2.66" height="18.5" fill="#74dfe0"/>
<path d="M518.47 73.8V88.1" stroke="#ea2079" stroke-width="0.75" opacity="0.8"/>
<rect x="517.14" y="76.2" width="2.66" height="3.8" fill="#ea2079"/>
<path d="M522.74 70.0V81.2" stroke="#74dfe0" stroke-width="0.75" opacity="0.8"/>
<rect x="521.41" y="75.2" width="2.66" height="4.8" fill="#74dfe0"/>
<path d="M527.01 73.1V86.2" stroke="#ea2079" stroke-width="0.75" opacity="0.8"/>
<rect x="525.68" y="75.0" width="2.66" height="5.6" fill="#ea2079"/>
<path d="M531.28 66.2V79.8" stroke="#74dfe0" stroke-width="0.75" opacity="0.8"/>
<rect x="529.95" y="67.8" width="2.66" height="12.0" fill="#74dfe0"/>
<path d="M535.55 62.2V72.5" stroke="#74dfe0" stroke-width="0.75" opacity="0.8"/>
<rect x="534.22" y="64.4" width="2.66" height="3.8" fill="#74dfe0"/>
<path d="M539.82 64.4V69.4" stroke="#ea2079" stroke-width="0.75" opacity="0.8"/>
<rect x="538.49" y="64.4" width="2.66" height="3.8" fill="#ea2079"/>
<path d="M544.09 64.4V70.6" stroke="#ea2079" stroke-width="0.75" opacity="0.8"/>
<rect x="542.76" y="66.9" width="2.66" height="1.2" fill="#ea2079"/>
<path d="M548.36 63.8V71.2" stroke="#74dfe0" stroke-width="0.75" opacity="0.8"/>
<rect x="547.03" y="66.2" width="2.66" height="3.5" fill="#74dfe0"/>
<path d="M552.63 65.6V72.2" stroke="#ea2079" stroke-width="0.75" opacity="0.8"/>
<rect x="551.30" y="65.6" width="2.66" height="5.6" fill="#ea2079"/>
<path d="M556.90 68.1V79.4" stroke="#ea2079" stroke-width="0.75" opacity="0.8"/>
<rect x="555.57" y="70.0" width="2.66" height="9.4" fill="#ea2079"/>
<path d="M561.17 78.5V87.5" stroke="#ea2079" stroke-width="0.75" opacity="0.8"/>
<rect x="559.84" y="78.5" width="2.66" height="4.6" fill="#ea2079"/>
<path d="M565.44 80.6V88.1" stroke="#ea2079" stroke-width="0.75" opacity="0.8"/>
<rect x="564.11" y="81.9" width="2.66" height="1.2" fill="#ea2079"/>
<path d="M569.71 77.5V82.8" stroke="#74dfe0" stroke-width="0.75" opacity="0.8"/>
<rect x="568.38" y="79.0" width="2.66" height="3.8" fill="#74dfe0"/>
<path d="M573.98 70.6V79.4" stroke="#74dfe0" stroke-width="0.75" opacity="0.8"/>
<rect x="572.65" y="74.0" width="2.66" height="5.4" fill="#74dfe0"/>
<path d="M578.25 66.2V74.0" stroke="#74dfe0" stroke-width="0.75" opacity="0.8"/>
<rect x="576.92" y="68.1" width="2.66" height="5.9" fill="#74dfe0"/>
<path d="M582.52 53.8V73.1" stroke="#74dfe0" stroke-width="0.75" opacity="0.8"/>
<rect x="581.19" y="57.8" width="2.66" height="11.2" fill="#74dfe0"/>
<path d="M586.79 48.1V64.4" stroke="#ea2079" stroke-width="0.75" opacity="0.8"/>
<rect x="585.46" y="57.8" width="2.66" height="5.4" fill="#ea2079"/>
<path d="M591.06 60.6V85.6" stroke="#ea2079" stroke-width="0.75" opacity="0.8"/>
<rect x="589.73" y="61.9" width="2.66" height="17.5" fill="#ea2079"/>
<path d="M595.33 76.9V95.6" stroke="#ea2079" stroke-width="0.75" opacity="0.8"/>
<rect x="594.00" y="79.8" width="2.66" height="7.8" fill="#ea2079"/>
<path d="M599.60 86.9V116.2" stroke="#ea2079" stroke-width="0.75" opacity="0.8"/>
<rect x="598.27" y="86.9" width="2.66" height="8.1" fill="#ea2079"/>
<path d="M603.87 85.0V116.2" stroke="#ea2079" stroke-width="0.75" opacity="0.8"/>
<rect x="602.54" y="93.8" width="2.66" height="20.2" fill="#ea2079"/>
<path d="M608.14 108.8V131.9" stroke="#ea2079" stroke-width="0.75" opacity="0.8"/>
<rect x="606.81" y="112.2" width="2.66" height="19.6" fill="#ea2079"/>
<path d="M612.41 110.6V131.9" stroke="#74dfe0" stroke-width="0.75" opacity="0.8"/>
<rect x="611.08" y="121.0" width="2.66" height="10.9" fill="#74dfe0"/>
<path d="M616.68 106.9V131.2" stroke="#ea2079" stroke-width="0.75" opacity="0.8"/>
<rect x="615.35" y="121.0" width="2.66" height="4.6" fill="#ea2079"/>
<path d="M620.95 110.6V131.2" stroke="#74dfe0" stroke-width="0.75" opacity="0.8"/>
<rect x="619.62" y="111.9" width="2.66" height="14.1" fill="#74dfe0"/>
<path d="M625.22 97.2V112.8" stroke="#74dfe0" stroke-width="0.75" opacity="0.8"/>
<rect x="623.89" y="99.8" width="2.66" height="13.0" fill="#74dfe0"/>
<path d="M629.49 90.0V100.6" stroke="#74dfe0" stroke-width="0.75" opacity="0.8"/>
<rect x="628.16" y="93.1" width="2.66" height="7.5" fill="#74dfe0"/>
<rect x="632.43" y="92.1" width="2.66" height="3.8" fill="#b01c6a"/>
<path d="M638.03 87.8V97.8" stroke="#c9eef0" stroke-width="0.75" opacity="0.8"/>
<rect x="636.70" y="89.0" width="2.66" height="5.6" fill="#c9eef0"/>
<rect x="640.97" y="87.8" width="2.66" height="2.8" fill="#ea2079"/>
<rect x="645.24" y="88.4" width="2.66" height="1.9" fill="#ea2079"/>
<rect x="649.51" y="88.0" width="2.66" height="3.5" fill="#ea2079"/>
<path d="M655.11 74.6V91.2" stroke="#74dfe0" stroke-width="0.75" opacity="0.8"/>
<rect x="653.78" y="76.2" width="2.66" height="15.0" fill="#74dfe0"/>
<path d="M659.38 72.8V79.6" stroke="#ea2079" stroke-width="0.75" opacity="0.8"/>
<rect x="658.05" y="76.2" width="2.66" height="3.4" fill="#ea2079"/>
<path d="M663.65 69.0V79.2" stroke="#74dfe0" stroke-width="0.75" opacity="0.8"/>
<rect x="662.32" y="73.8" width="2.66" height="5.5" fill="#74dfe0"/>
<path d="M667.92 59.6V75.0" stroke="#74dfe0" stroke-width="0.75" opacity="0.8"/>
<rect x="666.59" y="64.0" width="2.66" height="11.0" fill="#74dfe0"/>
<path d="M672.19 64.0V78.4" stroke="#ea2079" stroke-width="0.75" opacity="0.8"/>
<rect x="670.86" y="64.0" width="2.66" height="13.5" fill="#ea2079"/>
<path d="M676.46 70.2V77.5" stroke="#74dfe0" stroke-width="0.75" opacity="0.8"/>
<rect x="675.13" y="71.2" width="2.66" height="6.2" fill="#74dfe0"/>
<path d="M680.73 70.2V78.4" stroke="#ea2079" stroke-width="0.75" opacity="0.8"/>
<rect x="679.40" y="70.2" width="2.66" height="4.4" fill="#ea2079"/>
<path d="M685.00 63.4V79.0" stroke="#74dfe0" stroke-width="0.75" opacity="0.8"/>
<rect x="683.67" y="64.6" width="2.66" height="9.4" fill="#74dfe0"/>
<path d="M689.27 65.0V78.4" stroke="#ea2079" stroke-width="0.75" opacity="0.8"/>
<rect x="687.94" y="65.0" width="2.66" height="5.9" fill="#ea2079"/>
<path d="M693.54 50.2V75.2" stroke="#74dfe0" stroke-width="0.75" opacity="0.8"/>
<rect x="692.21" y="60.9" width="2.66" height="9.6" fill="#74dfe0"/>
<path d="M697.81 59.0V68.8" stroke="#ea2079" stroke-width="0.75" opacity="0.8"/>
<rect x="696.48" y="60.2" width="2.66" height="8.5" fill="#ea2079"/>
<path d="M702.08 62.8V76.5" stroke="#ea2079" stroke-width="0.75" opacity="0.8"/>
<rect x="700.75" y="68.4" width="2.66" height="1.9" fill="#ea2079"/>
<path d="M706.35 55.9V75.2" stroke="#ea2079" stroke-width="0.75" opacity="0.8"/>
<rect x="705.02" y="67.8" width="2.66" height="6.2" fill="#ea2079"/>
<path d="M710.62 59.6V75.2" stroke="#c9eef0" stroke-width="0.75" opacity="0.8"/>
<rect x="709.29" y="69.6" width="2.66" height="3.8" fill="#c9eef0"/>
<path d="M714.89 69.0V80.9" stroke="#ea2079" stroke-width="0.75" opacity="0.8"/>
<rect x="713.56" y="69.0" width="2.66" height="8.8" fill="#ea2079"/>
<path d="M719.16 56.5V86.5" stroke="#74dfe0" stroke-width="0.75" opacity="0.8"/>
<rect x="717.83" y="59.0" width="2.66" height="20.2" fill="#74dfe0"/>
<path d="M723.43 57.8V73.4" stroke="#ea2079" stroke-width="0.75" opacity="0.8"/>
<rect x="722.10" y="59.0" width="2.66" height="14.4" fill="#ea2079"/>
<path d="M727.70 73.4V84.6" stroke="#ea2079" stroke-width="0.75" opacity="0.8"/>
<rect x="726.37" y="73.4" width="2.66" height="10.4" fill="#ea2079"/>
<path d="M731.97 77.8V83.4" stroke="#c9eef0" stroke-width="0.75" opacity="0.8"/>
<rect x="730.64" y="80.9" width="2.66" height="2.5" fill="#c9eef0"/>
<path d="M736.24 75.2V83.4" stroke="#74dfe0" stroke-width="0.75" opacity="0.8"/>
<rect x="734.91" y="76.8" width="2.66" height="5.4" fill="#74dfe0"/>
<path d="M740.51 74.0V82.8" stroke="#ea2079" stroke-width="0.75" opacity="0.8"/>
<rect x="739.18" y="76.8" width="2.66" height="4.1" fill="#ea2079"/>
<rect x="743.45" y="78.8" width="2.66" height="2.8" fill="#c9eef0"/>
<path d="M749.05 75.5V82.8" stroke="#ea2079" stroke-width="0.75" opacity="0.8"/>
<rect x="747.72" y="75.5" width="2.66" height="5.8" fill="#ea2079"/>
<rect x="751.99" y="76.1" width="2.66" height="3.8" fill="#ea2079"/>
<path d="M757.59 79.9V89.2" stroke="#ea2079" stroke-width="0.75" opacity="0.8"/>
<rect x="756.26" y="79.9" width="2.66" height="8.1" fill="#ea2079"/>
<path d="M761.86 87.4V94.9" stroke="#ea2079" stroke-width="0.75" opacity="0.8"/>
<rect x="760.53" y="87.4" width="2.66" height="4.6" fill="#ea2079"/>
<rect x="764.80" y="91.5" width="2.66" height="9.0" fill="#ea2079"/>
<path d="M770.40 92.0V102.4" stroke="#74dfe0" stroke-width="0.75" opacity="0.8"/>
<rect x="769.07" y="92.0" width="2.66" height="8.2" fill="#74dfe0"/>
<rect x="773.34" y="92.4" width="2.66" height="9.4" fill="#ea2079"/>
<path d="M778.94 100.5V107.4" stroke="#ea2079" stroke-width="0.75" opacity="0.8"/>
<rect x="777.61" y="100.5" width="2.66" height="3.1" fill="#ea2079"/>
<path d="M783.21 98.6V112.4" stroke="#ea2079" stroke-width="0.75" opacity="0.8"/>
<rect x="781.88" y="100.8" width="2.66" height="11.6" fill="#ea2079"/>
<path d="M787.48 98.6V112.4" stroke="#74dfe0" stroke-width="0.75" opacity="0.8"/>
<rect x="786.15" y="107.8" width="2.66" height="4.6" fill="#74dfe0"/>
<path d="M791.75 99.2V111.1" stroke="#ea2079" stroke-width="0.75" opacity="0.8"/>
<rect x="790.42" y="107.4" width="2.66" height="3.8" fill="#ea2079"/>
<path d="M796.02 110.2V118.0" stroke="#ea2079" stroke-width="0.75" opacity="0.8"/>
<rect x="794.69" y="110.2" width="2.66" height="3.8" fill="#ea2079"/>
<path d="M800.29 107.8V116.8" stroke="#74dfe0" stroke-width="0.75" opacity="0.8"/>
<rect x="798.96" y="107.8" width="2.66" height="6.2" fill="#74dfe0"/>
<path d="M804.56 104.2V112.4" stroke="#ea2079" stroke-width="0.75" opacity="0.8"/>
<rect x="803.23" y="107.4" width="2.66" height="5.0" fill="#ea2079"/>
<path d="M808.83 111.8V123.0" stroke="#ea2079" stroke-width="0.75" opacity="0.8"/>
<rect x="807.50" y="111.8" width="2.66" height="2.5" fill="#ea2079"/>
<path d="M813.10 108.6V116.1" stroke="#c9eef0" stroke-width="0.75" opacity="0.8"/>
<rect x="811.77" y="111.8" width="2.66" height="1.2" fill="#c9eef0"/>
<path d="M817.37 104.2V116.8" stroke="#74dfe0" stroke-width="0.75" opacity="0.8"/>
<rect x="816.04" y="108.2" width="2.66" height="4.5" fill="#74dfe0"/>
<path d="M821.64 105.5V126.8" stroke="#ea2079" stroke-width="0.75" opacity="0.8"/>
<rect x="820.31" y="108.2" width="2.66" height="15.8" fill="#ea2079"/>
<path d="M825.91 118.0V125.5" stroke="#ea2079" stroke-width="0.75" opacity="0.8"/>
<rect x="824.58" y="121.8" width="2.66" height="2.2" fill="#ea2079"/>
<path d="M830.18 115.5V124.9" stroke="#74dfe0" stroke-width="0.75" opacity="0.8"/>
<rect x="828.85" y="118.6" width="2.66" height="5.4" fill="#74dfe0"/>
<path d="M834.45 111.1V119.5" stroke="#74dfe0" stroke-width="0.75" opacity="0.8"/>
<rect x="833.12" y="112.8" width="2.66" height="6.8" fill="#74dfe0"/>
<path d="M838.72 105.5V113.6" stroke="#74dfe0" stroke-width="0.75" opacity="0.8"/>
<rect x="837.39" y="109.0" width="2.66" height="4.6" fill="#74dfe0"/>
<path d="M842.99 106.1V113.6" stroke="#c9eef0" stroke-width="0.75" opacity="0.8"/>
<rect x="841.66" y="107.8" width="2.66" height="1.2" fill="#c9eef0"/>
<path d="M847.26 106.1V109.2" stroke="#c9eef0" stroke-width="0.75" opacity="0.8"/>
<rect x="845.93" y="107.3" width="2.66" height="1.0" fill="#c9eef0"/>
<rect x="850.20" y="106.8" width="2.66" height="3.8" fill="#ea2079"/>
<rect x="854.47" y="104.5" width="2.66" height="6.6" fill="#74dfe0"/>
<path d="M860.07 95.5V106.8" stroke="#74dfe0" stroke-width="0.75" opacity="0.8"/>
<rect x="858.74" y="97.0" width="2.66" height="7.9" fill="#74dfe0"/>
<path d="M864.34 91.1V97.8" stroke="#74dfe0" stroke-width="0.75" opacity="0.8"/>
<rect x="863.01" y="92.4" width="2.66" height="5.4" fill="#74dfe0"/>
<path d="M868.61 88.6V95.5" stroke="#74dfe0" stroke-width="0.75" opacity="0.8"/>
<rect x="867.28" y="89.9" width="2.66" height="4.4" fill="#74dfe0"/>
<rect x="871.55" y="89.8" width="2.66" height="2.5" fill="#ea2079"/>
<path d="M877.15 91.0V96.0" stroke="#ea2079" stroke-width="0.75" opacity="0.8"/>
<rect x="875.82" y="91.0" width="2.66" height="2.5" fill="#ea2079"/>
<path d="M881.42 92.0V101.6" stroke="#ea2079" stroke-width="0.75" opacity="0.8"/>
<rect x="880.09" y="92.0" width="2.66" height="5.2" fill="#ea2079"/>
<rect x="884.36" y="96.0" width="2.66" height="5.6" fill="#ea2079"/>
<path d="M889.96 93.5V104.8" stroke="#74dfe0" stroke-width="0.75" opacity="0.8"/>
<rect x="888.63" y="95.4" width="2.66" height="6.9" fill="#74dfe0"/>
<path d="M894.23 89.1V103.5" stroke="#ea2079" stroke-width="0.75" opacity="0.8"/>
<rect x="892.90" y="95.4" width="2.66" height="6.6" fill="#ea2079"/>
<path d="M898.50 79.8V102.9" stroke="#74dfe0" stroke-width="0.75" opacity="0.8"/>
<rect x="897.17" y="89.8" width="2.66" height="11.9" fill="#74dfe0"/>
<path d="M902.77 87.9V96.6" stroke="#c9eef0" stroke-width="0.75" opacity="0.8"/>
<rect x="901.44" y="87.9" width="2.66" height="3.1" fill="#c9eef0"/>
<path d="M907.04 81.0V92.2" stroke="#74dfe0" stroke-width="0.75" opacity="0.8"/>
<rect x="905.71" y="82.9" width="2.66" height="6.2" fill="#74dfe0"/>
<path d="M911.31 77.2V86.6" stroke="#74dfe0" stroke-width="0.75" opacity="0.8"/>
<rect x="909.98" y="78.8" width="2.66" height="5.0" fill="#74dfe0"/>
<path d="M915.58 71.6V82.9" stroke="#ea2079" stroke-width="0.75" opacity="0.8"/>
<rect x="914.25" y="79.1" width="2.66" height="3.8" fill="#ea2079"/>
<path d="M919.85 82.2V87.9" stroke="#ea2079" stroke-width="0.75" opacity="0.8"/>
<rect x="918.52" y="82.2" width="2.66" height="4.4" fill="#ea2079"/>
<path d="M924.12 76.0V89.1" stroke="#74dfe0" stroke-width="0.75" opacity="0.8"/>
<rect x="922.79" y="81.6" width="2.66" height="5.4" fill="#74dfe0"/>
<path d="M928.39 80.4V91.6" stroke="#b01c6a" stroke-width="0.75" opacity="0.8"/>
<rect x="927.06" y="80.4" width="2.66" height="2.5" fill="#b01c6a"/>
<path d="M932.66 80.8V89.8" stroke="#c9eef0" stroke-width="0.75" opacity="0.8"/>
<rect x="931.33" y="80.8" width="2.66" height="2.1" fill="#c9eef0"/>
<path d="M936.93 74.8V82.9" stroke="#74dfe0" stroke-width="0.75" opacity="0.8"/>
<rect x="935.60" y="76.6" width="2.66" height="5.0" fill="#74dfe0"/>
<path d="M941.20 74.8V85.4" stroke="#ea2079" stroke-width="0.75" opacity="0.8"/>
<rect x="939.87" y="76.0" width="2.66" height="5.0" fill="#ea2079"/>
<rect x="944.14" y="77.0" width="2.66" height="3.8" fill="#c9eef0"/>
<rect x="948.41" y="77.5" width="2.66" height="2.2" fill="#ea2079"/>
<path d="M954.01 78.5V81.0" stroke="#ea2079" stroke-width="0.75" opacity="0.8"/>
<rect x="952.68" y="78.5" width="2.66" height="1.2" fill="#ea2079"/>
<path d="M958.28 75.8V82.9" stroke="#74dfe0" stroke-width="0.75" opacity="0.8"/>
<rect x="956.95" y="75.8" width="2.66" height="4.6" fill="#74dfe0"/>
<path d="M962.55 68.5V78.2" stroke="#ea2079" stroke-width="0.75" opacity="0.8"/>
<rect x="961.22" y="75.8" width="2.66" height="2.5" fill="#ea2079"/>
<path d="M966.82 73.5V81.6" stroke="#ea2079" stroke-width="0.75" opacity="0.8"/>
<rect x="965.49" y="76.6" width="2.66" height="3.4" fill="#ea2079"/>
<path d="M971.09 75.8V81.6" stroke="#74dfe0" stroke-width="0.75" opacity="0.8"/>
<rect x="969.76" y="75.8" width="2.66" height="4.6" fill="#74dfe0"/>
<path d="M975.36 75.8V82.9" stroke="#ea2079" stroke-width="0.75" opacity="0.8"/>
<rect x="974.03" y="75.8" width="2.66" height="5.9" fill="#ea2079"/>
<path d="M979.63 81.0V84.8" stroke="#ea2079" stroke-width="0.75" opacity="0.8"/>
<rect x="978.30" y="81.0" width="2.66" height="1.5" fill="#ea2079"/>
<path d="M983.90 76.0V84.1" stroke="#c9eef0" stroke-width="0.75" opacity="0.8"/>
<rect x="982.57" y="78.8" width="2.66" height="4.1" fill="#c9eef0"/>
<path d="M988.17 75.4V80.4" stroke="#ea2079" stroke-width="0.75" opacity="0.8"/>
<rect x="986.84" y="79.0" width="2.66" height="1.0" fill="#ea2079"/>
</g>
<path d="M2.0 245.6C4.8 248.0 4.1 247.0 10.4 252.9C16.7 258.8 15.5 258.3 20.8 263.3C26.1 268.3 20.7 263.3 26.2 268.0C31.8 272.7 29.6 271.6 37.5 277.4C45.4 283.2 43.8 280.9 50.0 285.5C56.2 290.1 51.2 288.4 56.2 291.1C61.2 293.8 58.8 291.7 65.0 293.6C71.2 295.5 67.5 295.4 75.0 296.8C82.5 298.1 81.7 297.7 87.5 297.8C93.3 297.8 89.2 299.0 92.5 297.0C95.8 295.0 93.8 296.8 97.5 291.8C101.2 286.7 99.6 288.8 103.8 281.8C107.9 274.7 105.8 277.1 110.0 270.5C114.2 263.9 110.4 271.8 116.4 262.0C122.4 252.2 121.7 251.7 128.0 241.0C134.3 230.3 126.0 243.5 135.2 230.0C144.6 216.5 145.1 216.4 155.9 200.6C166.7 184.8 161.5 192.7 167.8 182.5C174.0 172.3 171.7 175.6 174.6 170.0C177.5 164.4 174.0 168.3 176.5 165.6C179.0 162.9 176.8 164.6 182.0 162.0C187.2 159.4 185.1 161.2 192.0 157.8C198.9 154.2 195.0 155.1 202.8 151.5C210.5 147.9 208.2 151.3 215.2 147.1C222.3 142.9 217.8 144.1 224.0 139.0C230.2 133.9 227.3 136.2 234.0 131.8C240.7 127.4 237.3 129.4 244.0 125.9C250.7 122.4 244.8 123.0 254.0 121.2C263.2 119.5 261.5 121.6 271.5 120.5C281.5 119.4 275.7 118.9 284.0 118.0C292.3 117.1 290.2 117.2 296.5 117.8C302.8 118.3 297.8 116.9 302.8 119.6C307.8 122.3 306.9 123.1 311.5 125.8C316.1 128.4 310.7 126.7 316.5 127.5C322.3 128.3 320.7 127.4 329.0 128.2C337.3 129.1 333.2 129.2 341.5 130.0C349.8 130.8 345.7 129.8 354.0 130.8C362.3 131.7 359.8 132.3 366.5 132.9C373.2 133.5 369.0 133.0 374.0 132.5C379.0 132.0 377.3 132.4 381.5 131.4C385.7 130.4 381.5 133.0 386.5 129.5C391.5 126.0 390.7 125.9 396.5 121.0C402.3 116.1 399.0 118.3 404.0 114.8C409.0 111.2 404.8 114.2 411.5 110.2C418.2 106.2 415.4 107.9 424.2 102.6C433.1 97.3 429.2 99.2 438.0 94.4C446.8 89.6 443.0 91.3 450.5 88.1C458.0 84.9 453.4 86.1 460.5 84.8C467.6 83.4 465.1 84.4 471.8 84.0C478.4 83.6 475.1 83.0 480.5 83.5C485.9 84.0 481.3 84.8 488.0 85.4C494.7 86.0 492.2 85.6 500.5 85.2C508.8 84.9 504.7 85.5 513.0 84.4C521.3 83.3 517.2 83.8 525.5 81.9C533.8 80.0 528.8 81.2 538.0 78.8C547.2 76.2 544.7 75.9 553.0 74.4C561.3 73.0 555.5 74.4 563.0 74.4C570.5 74.4 567.2 74.7 575.5 74.4C583.8 74.1 580.5 73.7 588.0 73.5C595.5 73.3 591.8 72.4 598.0 73.8C604.2 75.1 602.1 75.2 606.8 77.5C611.4 79.8 607.1 77.6 612.0 80.5C616.9 83.4 614.2 82.9 621.5 86.2C628.8 89.6 625.7 88.6 634.0 90.5C642.3 92.4 638.8 91.2 646.5 91.9C654.2 92.7 649.3 92.0 657.0 92.8C664.7 93.5 661.2 93.9 669.5 94.0C677.8 94.1 675.8 94.2 682.0 93.0C688.2 91.8 683.2 93.2 688.2 90.2C693.2 87.2 691.6 87.7 697.0 84.0C702.4 80.3 699.1 81.8 704.5 79.2C709.9 76.7 706.6 78.1 713.2 76.2C719.9 74.4 716.2 75.0 724.5 73.8C732.8 72.5 730.8 72.8 738.2 72.5C745.8 72.2 742.4 72.4 747.0 72.8C751.6 73.1 746.2 72.6 752.0 73.6C757.8 74.6 757.0 73.9 764.5 75.8C772.0 77.6 767.0 76.0 774.5 79.2C782.0 82.5 778.7 81.5 787.0 85.5C795.3 89.5 791.2 87.3 799.5 91.1C807.8 94.9 803.7 93.2 812.0 97.0C820.3 100.8 816.2 98.8 824.5 102.4C832.8 106.0 829.5 105.0 837.0 107.8C844.5 110.5 840.8 109.4 847.0 110.5C853.2 111.6 849.9 111.2 855.8 111.1C861.6 111.0 859.1 111.1 864.5 110.2C869.9 109.4 865.3 109.9 872.0 108.5C878.7 107.1 876.2 107.5 884.5 106.0C892.8 104.5 889.5 105.8 897.0 104.1C904.5 102.4 900.8 103.5 907.0 101.0C913.2 98.5 908.7 99.2 915.8 96.6C922.8 94.0 919.9 95.9 928.2 93.2C936.6 90.6 933.7 90.8 940.8 88.8C947.8 86.8 943.2 88.4 949.5 87.2C955.8 86.1 952.0 87.0 959.5 85.4C967.0 83.8 964.5 84.0 972.0 82.5C979.5 81.0 976.6 81.7 982.0 81.0C987.4 80.3 986.2 80.6 988.2 80.4" fill="none" stroke="#bfbbd6" stroke-width="1.1" stroke-linejoin="round" opacity="0.95"/>
<g stroke="#8f90ad" stroke-width="0.75" opacity="0.75">
<path d="M1.80 441.25V454.5"/>
<path d="M6.07 441.25V457.5"/>
<path d="M10.34 441.25V459.5"/>
<path d="M14.61 441.25V461.5"/>
<path d="M18.88 441.25V463.2"/>
<path d="M23.15 441.25V464.0"/>
<path d="M27.42 441.25V463.2"/>
<path d="M31.69 441.25V462.0"/>
<path d="M35.96 441.25V460.8"/>
<path d="M40.23 441.25V459.0"/>
<path d="M44.50 441.25V457.5"/>
<path d="M48.77 441.25V456.5"/>
<path d="M53.04 441.25V455.0"/>
<path d="M57.31 441.25V454.0"/>
<path d="M61.58 441.25V452.5"/>
<path d="M65.85 441.25V451.5"/>
<path d="M70.12 441.25V450.8"/>
<path d="M74.39 441.25V450.0"/>
<path d="M78.66 441.25V450.0"/>
<path d="M82.93 441.25V449.5"/>
<path d="M87.20 441.25V449.0"/>
<path d="M91.47 441.25V448.2"/>
<path d="M95.74 441.25V440.0"/>
<path d="M100.01 441.25V429.5"/>
<path d="M104.28 441.25V417.0"/>
<path d="M108.55 441.25V414.5"/>
<path d="M112.82 441.25V410.8"/>
<path d="M117.09 441.25V407.5"/>
<path d="M121.36 441.25V402.0"/>
<path d="M125.63 441.25V400.0"/>
<path d="M129.90 441.25V399.0"/>
<path d="M134.17 441.25V399.0"/>
<path d="M138.44 441.25V399.5"/>
<path d="M142.71 441.25V401.5"/>
<path d="M146.98 441.25V403.2"/>
<path d="M151.25 441.25V404.5"/>
<path d="M155.52 441.25V405.8"/>
<path d="M159.79 441.25V407.5"/>
<path d="M164.06 441.25V408.2"/>
<path d="M168.33 441.25V409.0"/>
<path d="M172.60 441.25V408.2"/>
<path d="M176.87 441.25V407.5"/>
<path d="M181.14 441.25V407.5"/>
<path d="M185.41 441.25V408.2"/>
<path d="M189.68 441.25V408.2"/>
<path d="M193.95 441.25V408.2"/>
<path d="M198.22 441.25V409.0"/>
<path d="M202.49 441.25V409.5"/>
<path d="M206.76 441.25V410.0"/>
<path d="M211.03 441.25V410.8"/>
<path d="M215.30 441.25V410.0"/>
<path d="M219.57 441.25V409.5"/>
<path d="M223.84 441.25V409.0"/>
<path d="M228.11 441.25V409.5"/>
<path d="M232.38 441.25V410.0"/>
<path d="M236.65 441.25V411.5"/>
<path d="M240.92 441.25V414.0"/>
<path d="M245.19 441.25V415.8"/>
<path d="M249.46 441.25V418.2"/>
<path d="M253.73 441.25V420.0"/>
<path d="M258.00 441.25V421.5"/>
<path d="M262.27 441.25V424.5"/>
<path d="M266.54 441.25V427.5"/>
<path d="M270.81 441.25V429.5"/>
<path d="M275.08 441.25V430.0"/>
<path d="M279.35 441.25V429.0"/>
<path d="M283.62 441.25V429.0"/>
<path d="M287.89 441.25V430.8"/>
<path d="M292.16 441.25V430.8"/>
<path d="M296.43 441.25V432.0"/>
<path d="M300.70 441.25V434.5"/>
<path d="M304.97 441.25V436.5"/>
<path d="M309.24 441.25V439.0"/>
<path d="M313.51 441.25V440.2"/>
<path d="M317.78 441.25V440.8"/>
<path d="M322.05 441.25V440.2"/>
<path d="M330.59 441.25V440.8"/>
<path d="M334.86 441.25V440.2"/>
<path d="M339.13 441.25V440.0"/>
<path d="M343.40 441.25V440.8"/>
<path d="M373.29 441.25V440.8"/>
<path d="M377.56 441.25V440.0"/>
<path d="M381.83 441.25V435.8"/>
<path d="M386.10 441.25V434.0"/>
<path d="M390.37 441.25V430.8"/>
<path d="M394.64 441.25V427.8"/>
<path d="M398.91 441.25V425.2"/>
<path d="M403.18 441.25V421.5"/>
<path d="M407.45 441.25V419.0"/>
<path d="M411.72 441.25V417.5"/>
<path d="M415.99 441.25V419.0"/>
<path d="M420.26 441.25V420.8"/>
<path d="M424.53 441.25V422.5"/>
<path d="M428.80 441.25V424.0"/>
<path d="M433.07 441.25V425.8"/>
<path d="M437.34 441.25V427.8"/>
<path d="M441.61 441.25V429.5"/>
<path d="M445.88 441.25V429.5"/>
<path d="M450.15 441.25V430.8"/>
<path d="M454.42 441.25V432.5"/>
<path d="M458.69 441.25V433.2"/>
<path d="M462.96 441.25V434.5"/>
<path d="M467.23 441.25V435.8"/>
<path d="M471.50 441.25V435.8"/>
<path d="M475.77 441.25V435.0"/>
<path d="M480.04 441.25V434.5"/>
<path d="M484.31 441.25V434.0"/>
<path d="M488.58 441.25V434.0"/>
<path d="M492.85 441.25V433.2"/>
<path d="M497.12 441.25V433.2"/>
<path d="M501.39 441.25V433.2"/>
<path d="M505.66 441.25V433.2"/>
<path d="M509.93 441.25V434.5"/>
<path d="M514.20 441.25V434.5"/>
<path d="M518.47 441.25V435.0"/>
<path d="M522.74 441.25V435.0"/>
<path d="M527.01 441.25V435.8"/>
<path d="M531.28 441.25V432.0"/>
<path d="M535.55 441.25V435.0"/>
<path d="M539.82 441.25V435.8"/>
<path d="M544.09 441.25V435.8"/>
<path d="M548.36 441.25V435.8"/>
<path d="M552.63 441.25V436.5"/>
<path d="M556.90 441.25V436.5"/>
<path d="M561.17 441.25V437.0"/>
<path d="M565.44 441.25V437.5"/>
<path d="M569.71 441.25V437.8"/>
<path d="M573.98 441.25V438.2"/>
<path d="M578.25 441.25V438.2"/>
<path d="M582.52 441.25V436.5"/>
<path d="M586.79 441.25V437.8"/>
<path d="M591.06 441.25V438.2"/>
<path d="M595.33 441.25V439.0"/>
<path d="M599.60 441.25V440.0"/>
<path d="M603.87 441.25V442.0"/>
<path d="M608.14 441.25V448.2"/>
<path d="M612.41 441.25V450.8"/>
<path d="M616.68 441.25V453.2"/>
<path d="M620.95 441.25V453.2"/>
<path d="M625.22 441.25V452.0"/>
<path d="M629.49 441.25V449.5"/>
<path d="M633.76 441.25V448.2"/>
<path d="M638.03 441.25V447.0"/>
<path d="M642.30 441.25V446.5"/>
<path d="M646.57 441.25V445.8"/>
<path d="M650.84 441.25V444.5"/>
<path d="M655.11 441.25V443.2"/>
<path d="M659.38 441.25V442.0"/>
<path d="M663.65 441.25V440.8"/>
<path d="M667.92 441.25V440.0"/>
<path d="M672.19 441.25V439.0"/>
<path d="M676.46 441.25V437.8"/>
<path d="M680.73 441.25V437.0"/>
<path d="M685.00 441.25V436.5"/>
<path d="M689.27 441.25V435.8"/>
<path d="M693.54 441.25V435.0"/>
<path d="M697.81 441.25V435.0"/>
<path d="M702.08 441.25V435.8"/>
<path d="M706.35 441.25V435.8"/>
<path d="M710.62 441.25V436.5"/>
<path d="M714.89 441.25V436.5"/>
<path d="M719.16 441.25V437.0"/>
<path d="M723.43 441.25V437.0"/>
<path d="M727.70 441.25V437.8"/>
<path d="M731.97 441.25V438.2"/>
<path d="M736.24 441.25V439.5"/>
<path d="M740.51 441.25V440.2"/>
<path d="M744.78 441.25V440.8"/>
<path d="M757.59 441.25V442.0"/>
<path d="M761.86 441.25V442.8"/>
<path d="M766.13 441.25V444.0"/>
<path d="M770.40 441.25V444.0"/>
<path d="M774.67 441.25V445.8"/>
<path d="M778.94 441.25V447.5"/>
<path d="M783.21 441.25V449.0"/>
<path d="M787.48 441.25V450.0"/>
<path d="M791.75 441.25V450.8"/>
<path d="M796.02 441.25V451.5"/>
<path d="M800.29 441.25V452.0"/>
<path d="M804.56 441.25V452.0"/>
<path d="M808.83 441.25V452.0"/>
<path d="M813.10 441.25V452.0"/>
<path d="M817.37 441.25V452.5"/>
<path d="M821.64 441.25V452.5"/>
<path d="M825.91 441.25V452.0"/>
<path d="M830.18 441.25V451.5"/>
<path d="M834.45 441.25V450.8"/>
<path d="M838.72 441.25V450.0"/>
<path d="M842.99 441.25V449.5"/>
<path d="M847.26 441.25V449.0"/>
<path d="M851.53 441.25V448.2"/>
<path d="M855.80 441.25V447.0"/>
<path d="M860.07 441.25V445.0"/>
<path d="M864.34 441.25V443.2"/>
<path d="M868.61 441.25V442.0"/>
<path d="M877.15 441.25V440.8"/>
<path d="M881.42 441.25V440.2"/>
<path d="M885.69 441.25V440.0"/>
<path d="M889.96 441.25V440.0"/>
<path d="M894.23 441.25V439.5"/>
<path d="M898.50 441.25V439.0"/>
<path d="M902.77 441.25V438.2"/>
<path d="M907.04 441.25V437.8"/>
<path d="M911.31 441.25V437.0"/>
<path d="M915.58 441.25V437.0"/>
<path d="M919.85 441.25V436.5"/>
<path d="M924.12 441.25V436.2"/>
<path d="M928.39 441.25V435.8"/>
<path d="M932.66 441.25V435.0"/>
<path d="M936.93 441.25V434.5"/>
<path d="M941.20 441.25V434.0"/>
<path d="M945.47 441.25V434.0"/>
<path d="M949.74 441.25V433.8"/>
<path d="M954.01 441.25V433.8"/>
<path d="M958.28 441.25V433.8"/>
<path d="M962.55 441.25V433.8"/>
<path d="M966.82 441.25V434.0"/>
<path d="M971.09 441.25V434.0"/>
<path d="M975.36 441.25V434.5"/>
<path d="M979.63 441.25V434.5"/>
<path d="M983.90 441.25V435.0"/>
<path d="M988.17 441.25V435.0"/>
</g>
<path d="M2.0 373.0L6.2 370.5L10.0 371.0L15.0 373.5L22.5 373.5L28.8 371.5L32.5 371.5L37.5 368.5L45.0 365.5L52.5 362.2L60.0 362.2L65.0 363.5L70.0 365.5L75.0 366.0L78.8 368.5L83.0 362.2L87.0 364.8L91.2 361.0L96.2 343.5L100.0 341.5L108.8 341.5L113.8 345.5L117.5 344.8L122.5 342.5L130.0 342.2L135.0 344.8L140.0 346.0L147.5 351.0L151.2 349.8L155.0 350.5L160.0 350.2L165.0 348.5L170.0 347.2L175.0 344.8L180.0 345.5L185.5 350.5L191.2 347.2L198.8 346.8L203.0 353.0L208.8 349.8L215.0 349.0L220.0 346.0L226.2 345.5L231.2 348.5L237.0 356.0L242.5 353.5L250.0 354.8L256.0 356.0L261.0 358.0L266.5 361.0L272.2 357.2L279.8 352.2L287.2 360.5L291.0 359.8L296.0 355.5L302.2 363.0L308.5 364.0L314.0 363.5L322.2 356.5L331.0 361.0L342.2 361.0L347.2 362.2L352.2 361.8L357.2 358.5L366.0 359.0L373.5 355.5L378.5 350.2L382.2 349.8L386.0 352.2L391.0 348.0L394.8 348.0L403.0 341.5L408.5 349.8L413.5 352.2L419.8 352.2L424.8 361.0L429.0 356.5L436.0 358.0L442.2 358.5L446.0 356.5L451.0 359.2L454.8 359.2L459.0 356.8L463.5 360.5L468.0 361.0L473.0 357.2L476.0 356.8L479.8 355.5L484.8 356.0L488.5 354.8L493.0 352.2L497.2 354.8L501.0 354.2L506.0 359.8L509.0 362.2L512.0 359.8L515.8 357.8L527.0 358.0L532.0 355.2L537.0 354.8L548.2 355.5L554.5 358.5L560.8 361.5L565.8 361.5L572.0 359.0L578.2 355.5L583.2 352.2L587.0 354.0L591.5 361.0L598.2 365.5L603.2 370.5L608.2 373.5L612.0 370.5L616.5 371.0L622.0 364.8L627.0 361.0L632.0 359.8L637.0 359.0L650.8 359.8L655.0 355.5L662.0 355.2L668.2 351.5L673.2 356.5L677.0 355.5L682.0 355.5L685.8 353.0L689.5 354.2L693.2 352.2L698.2 355.5L702.0 355.5L705.8 357.2L710.8 356.5L715.0 360.5L719.0 354.2L723.2 358.5L727.5 361.5L732.0 361.5L735.8 360.2L753.2 360.5L758.2 364.0L762.0 365.5L765.8 368.0L768.0 366.5L771.0 364.8L774.2 367.2L779.2 367.8L783.5 371.0L788.0 368.5L793.0 369.0L796.8 370.5L801.0 367.2L806.8 369.0L813.0 369.0L817.5 366.5L822.5 371.8L826.8 371.5L833.5 366.5L840.5 363.0L847.5 361.8L851.8 363.5L858.0 358.0L864.2 354.8L870.5 353.5L876.8 354.0L881.8 357.2L886.0 360.5L890.5 357.2L894.2 360.2L899.2 355.5L904.2 353.5L911.0 350.2L915.5 353.0L920.5 355.2L925.5 352.8L933.0 352.2L936.8 351.0L941.8 352.2L946.8 352.2L950.5 353.0L955.0 353.0L958.5 351.5L963.0 353.0L967.5 354.8L971.0 352.2L975.5 357.8L980.0 357.8L985.0 355.5L988.5 355.5" fill="none" stroke="#6cc4d8" stroke-width="1.25" stroke-linejoin="round"/>
<path d="M2.0 443.2C4.7 445.2 4.0 445.2 10.0 449.0C16.0 452.8 13.3 451.2 20.0 454.5C26.7 457.8 24.2 456.7 30.0 459.0C35.8 461.3 32.5 460.3 37.5 461.5C42.5 462.7 40.0 462.2 45.0 462.5C50.0 462.8 47.5 463.2 52.5 462.5C57.5 461.8 54.2 462.2 60.0 460.2C65.8 458.2 64.2 458.4 70.0 456.5C75.8 454.6 72.9 455.8 77.5 454.5C82.1 453.2 80.4 453.2 83.8 452.5C87.1 451.8 83.3 453.5 87.5 452.5C91.7 451.5 91.2 452.2 96.2 449.5C101.2 446.8 97.9 448.8 102.5 444.5C107.1 440.2 105.0 441.9 110.0 436.5C115.0 431.1 112.5 433.9 117.5 428.2C122.5 422.6 120.0 425.6 125.0 419.5C130.0 413.4 127.5 415.2 132.5 410.0C137.5 404.8 135.0 406.7 140.0 404.0C145.0 401.3 142.1 402.8 147.5 402.0C152.9 401.2 151.2 401.3 156.2 401.5C161.2 401.7 157.9 401.5 162.5 402.5C167.1 403.5 165.0 403.2 170.0 404.5C175.0 405.8 171.7 405.5 177.5 406.5C183.3 407.5 180.0 407.1 187.5 407.5C195.0 407.9 191.7 407.4 200.0 407.8C208.3 408.1 204.2 408.1 212.5 408.5C220.8 408.9 217.5 408.7 225.0 409.0C232.5 409.3 228.3 408.9 235.0 409.5C241.7 410.1 238.0 409.5 245.0 410.8C252.0 412.0 249.8 411.2 256.0 413.2C262.2 415.3 258.5 414.2 263.5 417.0C268.5 419.8 265.2 418.6 271.0 421.5C276.8 424.4 273.5 423.1 281.0 425.8C288.5 428.4 285.2 427.2 293.5 429.5C301.8 431.8 297.7 430.4 306.0 432.5C314.3 434.6 310.2 433.8 318.5 435.8C326.8 437.7 322.7 436.8 331.0 438.2C339.3 439.7 333.5 439.2 343.5 440.0C353.5 440.8 350.2 440.5 361.0 440.8C371.8 441.0 367.7 441.3 376.0 440.8C384.3 440.2 379.3 440.9 386.0 439.0C392.7 437.1 389.3 438.2 396.0 435.0C402.7 431.8 399.3 433.0 406.0 429.5C412.7 426.0 409.8 427.0 416.0 424.5C422.2 422.0 418.9 423.0 424.8 422.0C430.6 421.0 428.1 421.2 433.5 421.5C438.9 421.8 435.2 421.3 441.0 422.8C446.8 424.2 444.3 423.8 451.0 425.8C457.7 427.8 455.2 426.9 461.0 428.8C466.8 430.6 461.8 429.9 468.5 431.2C475.2 432.6 471.8 432.2 481.0 432.8C490.2 433.2 485.7 433.0 496.0 432.8C506.3 432.5 501.7 432.0 512.0 432.0C522.3 432.0 517.0 432.2 527.0 432.8C537.0 433.3 532.0 433.4 542.0 433.8C552.0 434.1 547.0 433.2 557.0 433.8C567.0 434.2 562.0 434.4 572.0 435.2C582.0 436.1 578.7 435.7 587.0 436.2C595.3 436.8 590.3 435.9 597.0 437.0C603.7 438.1 600.3 437.4 607.0 439.5C613.7 441.6 610.3 440.6 617.0 443.2C623.7 445.9 620.3 445.2 627.0 447.5C633.7 449.8 629.9 449.1 637.0 450.0C644.1 450.9 641.6 450.8 648.2 450.2C654.9 449.7 650.8 450.2 657.0 448.2C663.2 446.3 660.3 447.0 667.0 444.5C673.7 442.0 670.3 442.8 677.0 440.8C683.7 438.7 680.3 439.9 687.0 438.2C693.7 436.6 690.3 437.0 697.0 435.8C703.7 434.5 700.3 435.2 707.0 434.5C713.7 433.8 710.3 433.9 717.0 433.8C723.7 433.6 720.3 433.3 727.0 434.0C733.7 434.7 729.5 434.5 737.0 435.8C744.5 437.0 741.2 436.5 749.5 437.8C757.8 439.0 755.8 438.5 762.0 439.5C768.2 440.5 762.7 439.2 768.0 440.8C773.3 442.2 769.7 441.8 778.0 444.0C786.3 446.2 783.0 445.4 793.0 447.5C803.0 449.6 798.0 448.8 808.0 450.2C818.0 451.8 813.0 451.4 823.0 452.0C833.0 452.6 828.0 452.4 838.0 452.0C848.0 451.6 844.7 451.6 853.0 450.8C861.3 449.9 856.3 450.9 863.0 449.5C869.7 448.1 866.3 448.4 873.0 446.5C879.7 444.6 876.3 445.4 883.0 443.8C889.7 442.1 886.3 442.8 893.0 441.5C899.7 440.2 896.3 441.1 903.0 440.0C909.7 438.9 906.3 439.1 913.0 438.2C919.7 437.4 916.3 438.3 923.0 437.5C929.7 436.7 926.3 436.8 933.0 435.8C939.7 434.8 936.3 435.1 943.0 434.5C949.7 433.9 944.7 434.2 953.0 434.0C961.3 433.8 959.7 433.8 968.0 433.8C976.3 433.8 971.2 433.8 978.0 434.0C984.8 434.2 985.0 434.3 988.5 434.5" fill="none" stroke="#6cc4d8" stroke-width="1.25" stroke-linejoin="round"/>
</g>
<g stroke="#a8a8c6" fill="none">
<path d="M1 1.5H999" stroke-width="1"/>
<path d="M1.5 1V467.5" stroke-width="1"/>
<path d="M998.5 1V467.5" stroke-width="1"/>
<path d="M1 326.2H998.5" stroke-width="1.8"/>
<path d="M1 393.5H998.5" stroke-width="1.8"/>
<path d="M1 467.6H999" stroke-width="1" opacity="0.75"/>
</g>
<g stroke="#a8a8c6" stroke-width="0.8">
<path d="M998.5 6.60h2"/>
<path d="M998.5 24.20h2"/>
<path d="M998.5 41.80h2"/>
<path d="M998.5 59.40h2"/>
<path d="M998.5 77.00h2"/>
<path d="M998.5 94.60h2"/>
<path d="M998.5 112.20h2"/>
<path d="M998.5 129.80h2"/>
<path d="M998.5 147.40h2"/>
<path d="M998.5 165.00h2"/>
<path d="M998.5 182.60h2"/>
<path d="M998.5 200.20h2"/>
<path d="M998.5 217.80h2"/>
<path d="M998.5 235.40h2"/>
<path d="M998.5 253.00h2"/>
<path d="M998.5 270.60h2"/>
<path d="M998.5 288.20h2"/>
<path d="M998.5 305.80h2"/>
<path d="M998.5 323.40h2"/>
<path d="M998.5 346.50h2"/>
<path d="M998.5 373.20h2"/>
<path d="M998.5 441.30h2"/>
<path d="M1.80 467.3v2.5"/>
<path d="M35.96 467.3v2.5"/>
<path d="M70.12 467.3v2.5"/>
<path d="M104.28 467.3v2.5"/>
<path d="M138.44 467.3v2.5"/>
<path d="M172.60 467.3v2.5"/>
<path d="M206.76 467.3v2.5"/>
<path d="M240.92 467.3v2.5"/>
<path d="M275.08 467.3v2.5"/>
<path d="M309.24 467.3v2.5"/>
<path d="M343.40 467.3v2.5"/>
<path d="M377.56 467.3v2.5"/>
<path d="M411.72 467.3v2.5"/>
<path d="M445.88 467.3v2.5"/>
<path d="M480.04 467.3v2.5"/>
<path d="M514.20 467.3v2.5"/>
<path d="M548.36 467.3v2.5"/>
<path d="M582.52 467.3v2.5"/>
<path d="M616.68 467.3v2.5"/>
<path d="M650.84 467.3v2.5"/>
<path d="M685.00 467.3v2.5"/>
<path d="M719.16 467.3v2.5"/>
<path d="M753.32 467.3v2.5"/>
<path d="M787.48 467.3v2.5"/>
<path d="M821.64 467.3v2.5"/>
<path d="M855.80 467.3v2.5"/>
<path d="M889.96 467.3v2.5"/>
<path d="M924.12 467.3v2.5"/>
<path d="M958.28 467.3v2.5"/>
</g>
<g font-family="Liberation Sans, sans-serif" font-size="5.0" fill="#f4f4fa" stroke="#f4f4fa" stroke-width="0.25">
<text x="1001.5" y="8.8">1.20540</text>
<text x="1001.5" y="26.4">1.20130</text>
<text x="1001.5" y="44.0">1.19720</text>
<text x="1001.5" y="61.6">1.19310</text>
<text x="1001.5" y="96.8">1.18490</text>
<text x="1001.5" y="114.4">1.18080</text>
<text x="1001.5" y="132.0">1.17680</text>
<text x="1001.5" y="149.6">1.17270</text>
<text x="1001.5" y="167.2">1.16860</text>
<text x="1001.5" y="184.8">1.16450</text>
<text x="1001.5" y="202.4">1.16040</text>
<text x="1001.5" y="220.0">1.15630</text>
<text x="1001.5" y="237.6">1.15220</text>
<text x="1001.5" y="255.2">1.14810</text>
<text x="1001.5" y="272.8">1.14410</text>
<text x="1001.5" y="290.4">1.14000</text>
<text x="1001.5" y="308.0">1.13590</text>
<text x="1001.5" y="325.6">1.13180</text>
<text x="1000.8" y="332.3">100</text><text x="1000.8" y="348.4">70</text><text x="1000.8" y="375.1">30</text><text x="1000.8" y="391.6">0</text>
<text x="1000.8" y="399.5">0.008391</text><text x="1000.8" y="443.2">0.00</text><text x="1000.8" y="466.2">-0.004835</text>
<text x="1.6" y="474.7">9 Nov 2022</text>
<text x="35.8" y="474.7">10 Nov 01:00</text>
<text x="69.9" y="474.7">10 Nov 09:00</text>
<text x="104.1" y="474.7">10 Nov 17:00</text>
<text x="138.2" y="474.7">11 Nov 01:00</text>
<text x="172.4" y="474.7">11 Nov 09:00</text>
<text x="206.6" y="474.7">11 Nov 17:00</text>
<text x="240.7" y="474.7">14 Nov 01:00</text>
<text x="274.9" y="474.7">14 Nov 09:00</text>
<text x="309.0" y="474.7">14 Nov 17:00</text>
<text x="343.2" y="474.7">15 Nov 01:00</text>
<text x="377.4" y="474.7">15 Nov 09:00</text>
<text x="411.5" y="474.7">15 Nov 17:00</text>
<text x="445.7" y="474.7">16 Nov 01:00</text>
<text x="479.8" y="474.7">16 Nov 09:00</text>
<text x="514.0" y="474.7">16 Nov 17:00</text>
<text x="548.2" y="474.7">17 Nov 01:00</text>
<text x="582.3" y="474.7">17 Nov 09:00</text>
<text x="616.5" y="474.7">17 Nov 17:00</text>
<text x="650.6" y="474.7">18 Nov 01:00</text>
<text x="684.8" y="474.7">18 Nov 09:00</text>
<text x="719.0" y="474.7">18 Nov 17:00</text>
<text x="753.1" y="474.7">21 Nov 01:00</text>
<text x="787.3" y="474.7">21 Nov 09:00</text>
<text x="821.4" y="474.7">21 Nov 17:00</text>
<text x="855.6" y="474.7">22 Nov 01:00</text>
<text x="889.8" y="474.7">22 Nov 09:00</text>
<text x="923.9" y="474.7">22 Nov 17:00</text>
<text x="958.1" y="474.7">23 Nov 01:00</text>
<text x="10" y="7.9">GBPUSD,H1</text><text x="42" y="7.9">1.18857 1.18895 1.18853 1.18854</text>
<text x="4.2" y="334.2">RSI(14) 56.3321</text>
<text x="4.2" y="401.2">MACD(12,26,9) 0.000862 0.001113</text>
</g>
<path d="M3.4 4.9h3.4l-1.7 2.2z" fill="#f4f4fa"/>
<path d="M1.2 464.8L4.2 467.6L1.2 468.6z" fill="#e8e8f2"/>
<rect x="999.4" y="75.7" width="21.9" height="6.4" fill="#f4f4f8"/>
<text x="1002" y="80.8" font-family="Liberation Sans, sans-serif" font-size="5.0" fill="#14163f">1.18854</text>
<rect x="0" y="479" width="1024" height="2" fill="#b9b9c2"/>
<rect x="129" y="479" width="43" height="2" fill="#f5f5f7"/>
<rect x="1023" y="0" width="1" height="479" fill="#ffffff"/>
</g>
</svg>
</body></html>
